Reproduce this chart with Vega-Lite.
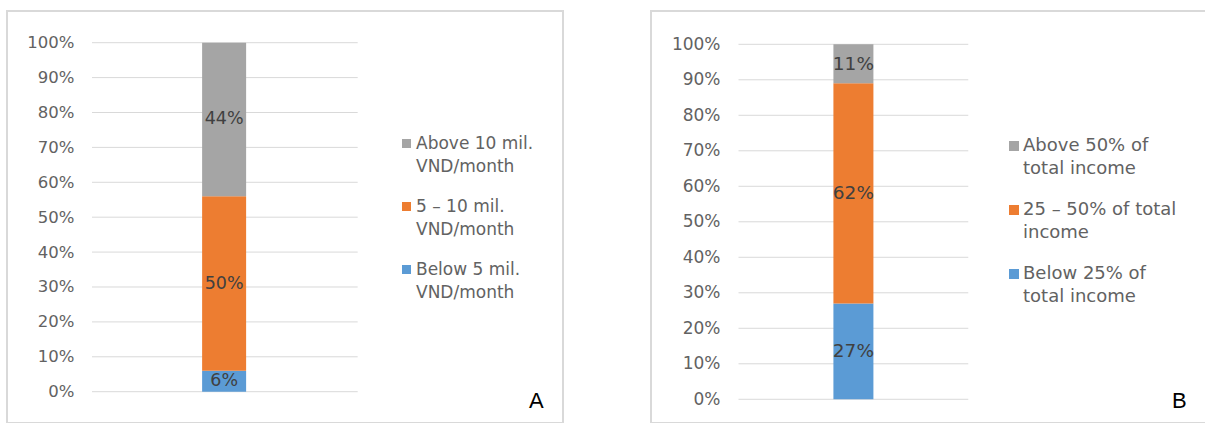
{
  "$schema": "https://vega.github.io/schema/vega-lite/v6.json",
  "padding": {"left": 6, "top": 10, "right": 0, "bottom": 0},
  "spacing": 86,
  "background": "white",
  "config": {
    "view": {"stroke": "#d9d9d9", "strokeWidth": 2},
    "font": "DejaVu Sans"
  },
  "datasets": {
    "grid": [{"t": 0}, {"t": 0.1}, {"t": 0.2}, {"t": 0.3}, {"t": 0.4}, {"t": 0.5}, {"t": 0.6}, {"t": 0.7}, {"t": 0.8}, {"t": 0.9}, {"t": 1}],
    "A": [
      {"category": "Below 5 mil. VND/month", "level": 1, "share": 0.06},
      {"category": "5 – 10 mil. VND/month", "level": 2, "share": 0.50},
      {"category": "Above 10 mil. VND/month", "level": 3, "share": 0.44}
    ],
    "B": [
      {"category": "Below 25% of total income", "level": 1, "share": 0.27},
      {"category": "25 – 50% of total income", "level": 2, "share": 0.62},
      {"category": "Above 50% of total income", "level": 3, "share": 0.11}
    ]
  },
  "hconcat": [
    {
      "width": 556,
      "height": 412,
      "layer": [
        {
          "data": {"name": "grid"},
          "mark": {"type": "rule", "color": "#d9d9d9", "strokeWidth": 1},
          "encoding": {
            "y": {"field": "t", "type": "quantitative",
              "scale": {"domain": [-0.0897, 1.0908], "nice": false, "zero": false},
              "axis": {"values": [0, 0.1, 0.2, 0.3, 0.4, 0.5, 0.6, 0.7, 0.8, 0.9, 1], "format": ".0%", "title": null, "domain": false, "ticks": false, "grid": false, "offset": -67, "labelPadding": 0, "labelFontSize": 16.5, "labelColor": "#626262", "labelFont": "DejaVu Sans"}},
            "x": {"datum": 0.1465, "type": "quantitative", "scale": {"domain": [0, 1], "nice": false, "zero": false}, "axis": null},
            "x2": {"datum": 0.6331}
          }
        },
        {
          "data": {"name": "A"},
          "mark": {"type": "bar", "width": 44},
          "encoding": {
            "x": {"datum": 0.3885, "type": "quantitative"},
            "y": {"field": "share", "type": "quantitative", "stack": "zero",
              "axis": {"values": [0, 0.1, 0.2, 0.3, 0.4, 0.5, 0.6, 0.7, 0.8, 0.9, 1], "format": ".0%", "title": null, "domain": false, "ticks": false, "grid": false, "offset": -67, "labelPadding": 0, "labelFontSize": 16.5, "labelColor": "#626262", "labelFont": "DejaVu Sans"}},
            "order": {"field": "level", "type": "quantitative"},
            "color": {"field": "category", "type": "nominal",
              "scale": {"domain": ["Above 10 mil. VND/month", "5 – 10 mil. VND/month", "Below 5 mil. VND/month"], "range": ["#a5a5a5", "#ed7d31", "#5b9bd5"]},
              "legend": {"orient": "none", "legendX": 391, "legendY": 124, "title": null, "symbolType": "square", "symbolSize": 81, "symbolStrokeWidth": 0, "labelFontSize": 17, "labelFont": "DejaVu Sans", "labelColor": "#626262", "labelOffset": 1, "rowPadding": 22, "labelBaseline": "middle", "labelLimit": 300,
                "encoding": {"labels": {"lineHeight": {"value": 23}}},
                "labelExpr": "split(replace(datum.label, ' VND', '|VND'), '|')"}}
          }
        },
        {
          "data": {"name": "A"},
          "mark": {"type": "text", "fontSize": 17.5, "color": "#404040", "font": "DejaVu Sans"},
          "encoding": {
            "x": {"datum": 0.3885, "type": "quantitative"},
            "y": {"field": "share", "type": "quantitative", "stack": "zero", "bandPosition": 0.5,
              "axis": {"values": [0, 0.1, 0.2, 0.3, 0.4, 0.5, 0.6, 0.7, 0.8, 0.9, 1], "format": ".0%", "title": null, "domain": false, "ticks": false, "grid": false, "offset": -67, "labelPadding": 0, "labelFontSize": 16.5, "labelColor": "#626262", "labelFont": "DejaVu Sans"}},
            "detail": {"field": "category"},
            "order": {"field": "level", "type": "quantitative"},
            "text": {"field": "share", "type": "quantitative", "format": ".0%"}
          }
        },
        {
          "data": {"values": [{"panel": "A"}]},
          "mark": {"type": "text", "fontSize": 22, "color": "black", "font": "Liberation Sans"},
          "encoding": {
            "x": {"datum": 0.9604, "type": "quantitative"},
            "y": {"datum": -0.0266, "type": "quantitative"},
            "text": {"field": "panel"}
          }
        }
      ]
    },
    {
      "width": 557,
      "height": 412,
      "layer": [
        {
          "data": {"name": "grid"},
          "mark": {"type": "rule", "color": "#d9d9d9", "strokeWidth": 1},
          "encoding": {
            "y": {"field": "t", "type": "quantitative",
              "scale": {"domain": [-0.0668, 1.0938], "nice": false, "zero": false},
              "axis": {"values": [0, 0.1, 0.2, 0.3, 0.4, 0.5, 0.6, 0.7, 0.8, 0.9, 1], "format": ".0%", "title": null, "domain": false, "ticks": false, "grid": false, "offset": -69, "labelPadding": 0, "labelFontSize": 17, "labelColor": "#626262", "labelFont": "DejaVu Sans"}},
            "x": {"datum": 0.1508, "type": "quantitative", "scale": {"domain": [0, 1], "nice": false, "zero": false}, "axis": null},
            "x2": {"datum": 0.5709}
          }
        },
        {
          "data": {"name": "B"},
          "mark": {"type": "bar", "width": 40},
          "encoding": {
            "x": {"datum": 0.3609, "type": "quantitative"},
            "y": {"field": "share", "type": "quantitative", "stack": "zero",
              "axis": {"values": [0, 0.1, 0.2, 0.3, 0.4, 0.5, 0.6, 0.7, 0.8, 0.9, 1], "format": ".0%", "title": null, "domain": false, "ticks": false, "grid": false, "offset": -69, "labelPadding": 0, "labelFontSize": 17, "labelColor": "#626262", "labelFont": "DejaVu Sans"}},
            "order": {"field": "level", "type": "quantitative"},
            "color": {"field": "category", "type": "nominal",
              "scale": {"domain": ["Above 50% of total income", "25 – 50% of total income", "Below 25% of total income"], "range": ["#a5a5a5", "#ed7d31", "#5b9bd5"]},
              "legend": {"orient": "none", "legendX": 354, "legendY": 126, "title": null, "symbolType": "square", "symbolSize": 100, "symbolStrokeWidth": 0, "labelFontSize": 18, "labelFont": "DejaVu Sans", "labelColor": "#626262", "labelOffset": 0, "rowPadding": 23, "labelBaseline": "middle", "labelLimit": 300,
                "encoding": {"labels": {"lineHeight": {"value": 23}}},
                "labelExpr": "datum.label == '25 – 50% of total income' ? ['25 – 50% of total', 'income'] : split(replace(datum.label, ' total', '|total'), '|')"}}
          }
        },
        {
          "data": {"name": "B"},
          "mark": {"type": "text", "fontSize": 18.5, "color": "#404040", "font": "DejaVu Sans"},
          "encoding": {
            "x": {"datum": 0.3609, "type": "quantitative"},
            "y": {"field": "share", "type": "quantitative", "stack": "zero", "bandPosition": 0.5,
              "axis": {"values": [0, 0.1, 0.2, 0.3, 0.4, 0.5, 0.6, 0.7, 0.8, 0.9, 1], "format": ".0%", "title": null, "domain": false, "ticks": false, "grid": false, "offset": -69, "labelPadding": 0, "labelFontSize": 17, "labelColor": "#626262", "labelFont": "DejaVu Sans"}},
            "detail": {"field": "category"},
            "order": {"field": "level", "type": "quantitative"},
            "text": {"field": "share", "type": "quantitative", "format": ".0%"}
          }
        },
        {
          "data": {"values": [{"panel": "B"}]},
          "mark": {"type": "text", "fontSize": 22, "color": "black", "font": "Liberation Sans"},
          "encoding": {
            "x": {"datum": 0.9569, "type": "quantitative"},
            "y": {"datum": -0.0048, "type": "quantitative"},
            "text": {"field": "panel"}
          }
        }
      ]
    }
  ],
  "resolve": {"scale": {"color": "independent", "x": "independent", "y": "independent"}, "legend": {"color": "independent"}}
}
